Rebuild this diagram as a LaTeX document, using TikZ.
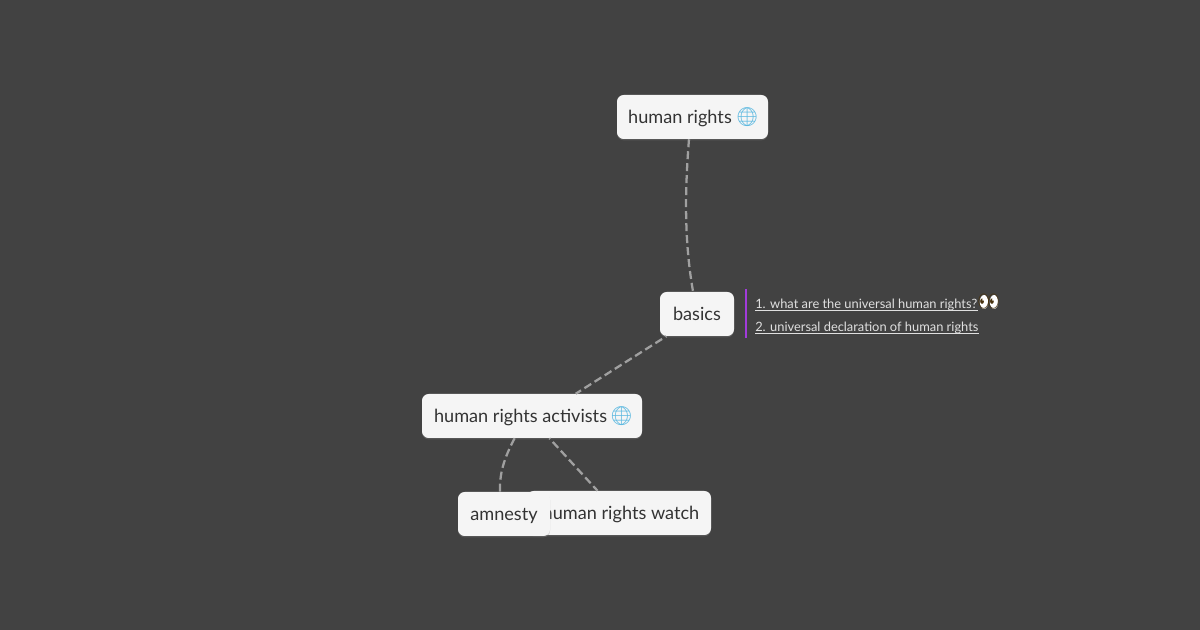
\documentclass[tikz,border=0pt]{standalone}
\usepackage{fontspec}
\usepackage{color}
\setmainfont{Lato}
\newfontfamily\emojifont{Noto Emoji}
\usetikzlibrary{shadows}
\definecolor{mapgrey}{HTML}{424242}
\definecolor{cardwhite}{HTML}{F5F5F5}
\definecolor{cardtext}{HTML}{333333}
\definecolor{linkgrey}{HTML}{A0A0A0}
\definecolor{notepurple}{HTML}{A23BDB}
\definecolor{globeblue}{HTML}{5BB8E0}
\definecolor{notetext}{HTML}{E0E0E0}
\definecolor{eyebrown}{HTML}{4A3410}
\newcommand{\globe}{{\emojifont\fontsize{14pt}{14pt}\selectfont\textcolor{globeblue}{🌐}}}

\begin{document}
\begin{tikzpicture}[x=0.75pt,y=-0.75pt,
    card/.style={fill=cardwhite,text=cardtext,rounded corners=5pt,inner sep=0pt,
        minimum height=33pt,text height=10.8pt,text depth=0.4pt,font=\fontsize{13.6pt}{15pt}\selectfont,
        drop shadow={shadow xshift=0pt,shadow yshift=-1pt,opacity=0.35}},
    maplink/.style={draw=linkgrey,line width=1.7pt,dash pattern=on 6pt off 3pt},
    notelink/.style={text=notetext,inner sep=0pt,anchor=west,text height=7pt,text depth=1.2pt,font=\fontsize{9.65pt}{11pt}\selectfont},
    noteline/.style={draw=notetext,line width=0.6pt}
]
\fill[mapgrey] (0,0) rectangle (1200,630);
\useasboundingbox (0,0) rectangle (1200,630);

\node[card,minimum width=113.25pt] (rights) at (692.5,117) {\hspace*{1.6pt}human rights\hspace{2.6pt}\globe};
\node[card,minimum width=55.5pt] (basics) at (697,314) {basics};
\node[card,minimum width=165pt] (activists) at (532,416) {\hspace*{2.5pt}human rights activists\hspace{1.9pt}\globe};
\node[card,minimum width=138pt] (watch) at (619,513) {\hspace*{3pt}human rights watch};
\node[card,minimum width=69pt] (amnesty) at (504,514) {amnesty};

% links between the cards
\draw[maplink] (rights.-99) .. controls (685,190) and (684,240) .. (basics.100);
\draw[maplink,dash phase=5.25pt] (basics.216) -- (activists.27);
\draw[maplink] (activists.-128) .. controls (507,453) and (499,470) .. (amnesty.100);
\draw[maplink,dash phase=5.25pt] (activists.-52) -- (watch.134);

% notes next to basics
\coordinate (bartop) at (746,289);
\coordinate (barbottom) at (746,338);
\draw[notepurple,line width=1.6pt] (bartop) -- (barbottom);
\node[notelink] (whatare) at (755,305) {1. what are the universal human rights?\ };
\node[notelink] (declaration) at (755,328) {2. universal declaration of human rights};
\draw[noteline] (whatare.south west) -- (whatare.south east);
\draw[noteline] (declaration.south west) -- (declaration.south east);
\fill[white] (984,302) ellipse (4.2 and 7);
\fill[white] (994,302) ellipse (4.2 and 7);
\node[inner sep=0pt,text=eyebrown,font=\emojifont\fontsize{13pt}{14pt}\selectfont] (eyes) at (988.5,302) {👀};
\end{tikzpicture}
\end{document}
